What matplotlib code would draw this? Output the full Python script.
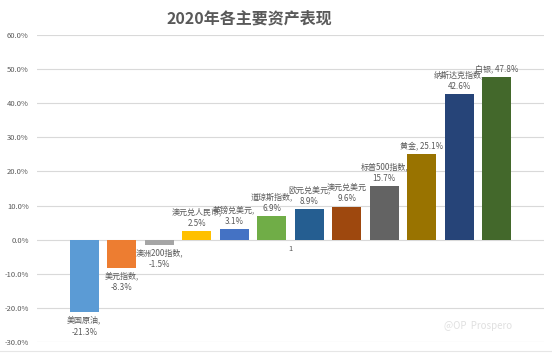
import numpy as np
import matplotlib
matplotlib.use("Agg")
from matplotlib import pyplot as plt

plt.rcParams['font.family'] = ['Noto Sans CJK SC', 'DejaVu Sans']

# Data
names = ["美国原油", "美元指数", "澳洲200指数", "澳元兑人民币", "英镑兑美元",
         "道琼斯指数", "欧元兑美元", "澳元兑美元", "标普500指数", "黄金",
         "纳斯达克指数", "白银"]
values = [-21.3, -8.3, -1.5, 2.5, 3.1, 6.9, 8.9, 9.6, 15.7, 25.1, 42.6, 47.8]
one_line = ["黄金", "白银"]
colors = ["#5B9BD5", "#ED7D31", "#A5A5A5", "#FFC000", "#4472C4", "#70AD47",
          "#255E91", "#9E480E", "#636363", "#997300", "#264478", "#43682B"]
yticks = [-30, -20, -10, 0, 10, 20, 30, 40, 50, 60]

txt_color = "#595959"

fig = plt.figure(figsize=(5.52, 3.55), dpi=100)
ax = fig.add_axes([37/552, 1 - 342/355, 507/552, 307/355])

x = np.arange(len(values))
ax.bar(x, values, width=0.77, color=colors, zorder=2)

# Data labels (name, value)
for xi, name, v in zip(x, names, values):
    if name in one_line:
        label = "{0}, {1:.1f}%".format(name, v)
    else:
        sep = "" if name == "澳元兑美元" else ","
        label = "{0}{1}\n{2:.1f}%".format(name, sep, v)
    off = 2.5 if v >= 0 else -2.5
    ax.annotate(label, (xi, v), xytext=(0, off), textcoords="offset points",
                ha="center", va="bottom" if v >= 0 else "top",
                fontsize=5.8, color=txt_color, linespacing=1.4, zorder=3)

ax.set_xlim(-1.26, 12.26)
ax.set_ylim(-30, 60)
ax.set_yticks(yticks)
ax.set_yticklabels(["{0:.1f}%".format(t) for t in yticks])
ax.set_xticks([])
ax.tick_params(axis="y", length=0, labelsize=5.5, labelcolor=txt_color, pad=6)
ax.grid(axis="y", color="#D9D9D9", linewidth=0.8, zorder=0)
for s in ax.spines.values():
    s.set_visible(False)

# category label "1" sits just under the zero line
ax.text(5.5, -1.6, "1", ha="center", va="top", fontsize=5.5, color=txt_color)

fig.text(249/552, 1 - 18/355, "2020年各主要资产表现", ha="center", va="center",
         fontsize=11.5, fontweight="bold", color=txt_color)

# faint watermark
fig.text(478/552, 1 - 326/355, "@OP  Prospero", ha="center", va="center",
         fontsize=7, color="#E0E0E0")

fig.add_artist(plt.Line2D([0, 1], [1 - 351/355, 1 - 351/355],
                          color="#E6E6E6", linewidth=0.8))

fig.savefig("out.png", dpi=100)
